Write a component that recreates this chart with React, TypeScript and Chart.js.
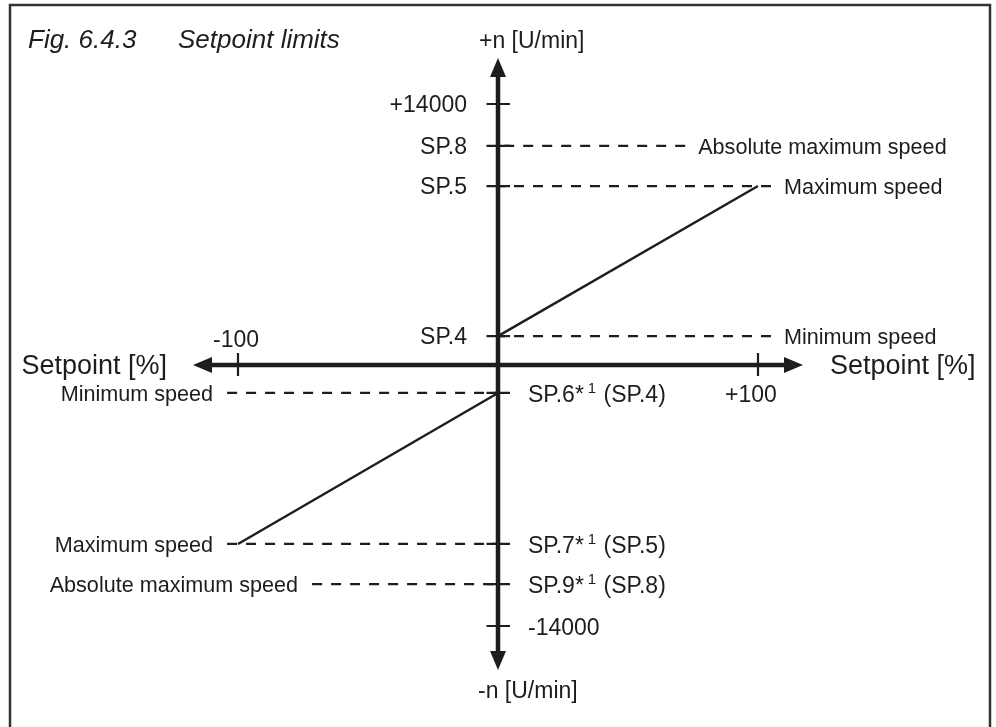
import { useEffect, useRef } from "react";
import { Chart, registerables } from "chart.js";

Chart.register(...registerables);

// ---- data ----
const titleParts = ["Fig. 6.4.3", "Setpoint limits"];
const xAxisTitle = "Setpoint [%]";
const yAxisTitlePos = "+n [U/min]";
const yAxisTitleNeg = "-n [U/min]";

const posTickLabels = ["+14000", "SP.8", "SP.5", "SP.4"];
const posTickValues = [14000, 11750, 9600, 1550];
const negTickLabels = ["SP.6*^1 (SP.4)", "SP.7*^1 (SP.5)", "SP.9*^1 (SP.8)", "-14000"];
const negTickValues = [-1500, -9600, -11750, -14000];

const xTickLabels = ["-100", "+100"];
const xTickValues = [-100, 100];

const posSetpoint = [0, 100];
const posSpeed = [1550, 9600];
const negSetpoint = [0, -100];
const negSpeed = [-1500, -9600];

const guideLabels = [
  "Absolute maximum speed",
  "Maximum speed",
  "Minimum speed",
  "Minimum speed",
  "Maximum speed",
  "Absolute maximum speed",
];
const guideLevels = [11750, 9600, 1550, -1500, -9600, -11750];
const guideEnds = [72, 105, 105, -104.2, -104.2, -71.5];

const axisXEnds = [-117.3, 117.3];
const axisYEnds = [-16360, 16470];

// scale bounds (view window)
const X_MIN = -191.54;
const X_MAX = 191.54;
const Y_MIN = -19418;
const Y_MAX = 19579;

const INK = "#1f1c1d";
const FONT = "'Liberation Sans', Arial, Helvetica, sans-serif";

function drawSupText(ctx: CanvasRenderingContext2D, text: string, x: number, y: number, size: number) {
  // "^" marks a superscript character: "A^1 B" -> A, sup 1, " B"
  const parts = text.split("^");
  ctx.font = `${size}px ${FONT}`;
  if (parts.length === 1) {
    ctx.fillText(text, x, y);
    return;
  }
  let cx = x;
  ctx.fillText(parts[0], cx, y);
  cx += ctx.measureText(parts[0]).width + 4;
  const rest = parts[1];
  const supChar = rest.charAt(0);
  const after = rest.slice(1);
  ctx.font = `${Math.round(size * 0.66)}px ${FONT}`;
  ctx.fillText(supChar, cx, y - 9);
  cx += ctx.measureText(supChar).width + 1;
  ctx.font = `${size}px ${FONT}`;
  ctx.fillText(after, cx, y);
}

const diagramPlugin = {
  id: "diagram",
  beforeDraw(chart: any) {
    const { ctx, width, height } = chart;
    ctx.save();
    ctx.fillStyle = "#ffffff";
    ctx.fillRect(0, 0, width, height);
    ctx.strokeStyle = "#333333";
    ctx.lineWidth = 2.5;
    ctx.beginPath();
    ctx.moveTo(10, height + 5);
    ctx.lineTo(10, 5);
    ctx.lineTo(990, 5);
    ctx.lineTo(990, height + 5);
    ctx.stroke();
    ctx.restore();
  },
  afterDatasetsDraw(chart: any) {
    const { ctx } = chart;
    const xs = chart.scales.x;
    const ys = chart.scales.y;
    const ox = xs.getPixelForValue(0);
    const oy = ys.getPixelForValue(0);
    const head = 19;
    const half = 8;

    ctx.save();
    ctx.strokeStyle = INK;
    ctx.fillStyle = INK;

    // axes
    const xl = xs.getPixelForValue(axisXEnds[0]);
    const xr = xs.getPixelForValue(axisXEnds[1]);
    const yt = ys.getPixelForValue(axisYEnds[1]);
    const yb = ys.getPixelForValue(axisYEnds[0]);
    ctx.lineWidth = 4.5;
    ctx.beginPath();
    ctx.moveTo(xl + head - 1, oy);
    ctx.lineTo(xr - head + 1, oy);
    ctx.moveTo(ox, yt + head - 1);
    ctx.lineTo(ox, yb - head + 1);
    ctx.stroke();

    const tri = (p: number[][]) => {
      ctx.beginPath();
      ctx.moveTo(p[0][0], p[0][1]);
      ctx.lineTo(p[1][0], p[1][1]);
      ctx.lineTo(p[2][0], p[2][1]);
      ctx.closePath();
      ctx.fill();
    };
    tri([[xl, oy], [xl + head, oy - half], [xl + head, oy + half]]);
    tri([[xr, oy], [xr - head, oy - half], [xr - head, oy + half]]);
    tri([[ox, yt], [ox - half, yt + head], [ox + half, yt + head]]);
    tri([[ox, yb], [ox - half, yb - head], [ox + half, yb - head]]);

    // ticks
    ctx.lineWidth = 2.2;
    ctx.beginPath();
    [...posTickValues, ...negTickValues].forEach((v) => {
      const py = ys.getPixelForValue(v);
      ctx.moveTo(ox - 11.5, py);
      ctx.lineTo(ox + 12, py);
    });
    xTickValues.forEach((v) => {
      const px = xs.getPixelForValue(v);
      ctx.moveTo(px, oy - 12);
      ctx.lineTo(px, oy + 11);
    });
    ctx.stroke();

    // tick labels
    ctx.textBaseline = "alphabetic";
    ctx.font = `23px ${FONT}`;
    ctx.textAlign = "right";
    posTickLabels.forEach((t, i) => {
      ctx.fillText(t, ox - 31, ys.getPixelForValue(posTickValues[i]) + 8);
    });
    ctx.textAlign = "left";
    negTickLabels.forEach((t, i) => {
      drawSupText(ctx, t, ox + 30, ys.getPixelForValue(negTickValues[i]) + 9, 23);
    });
    ctx.textAlign = "center";
    ctx.font = `23px ${FONT}`;
    xTickLabels.forEach((t, i) => {
      const v = xTickValues[i];
      const px = xs.getPixelForValue(v);
      if (v < 0) ctx.fillText(t, px - 2, oy - 18);
      else ctx.fillText(t, px - 7, oy + 37);
    });

    // guide labels
    ctx.font = `21.6px ${FONT}`;
    guideLabels.forEach((t, i) => {
      const end = xs.getPixelForValue(guideEnds[i]);
      const py = ys.getPixelForValue(guideLevels[i]) + 8;
      if (guideEnds[i] > 0) {
        ctx.textAlign = "left";
        ctx.fillText(t, end + 13, py);
      } else {
        ctx.textAlign = "right";
        ctx.fillText(t, end - 14, py);
      }
    });

    // axis titles
    ctx.font = `27px ${FONT}`;
    ctx.textAlign = "right";
    ctx.fillText(xAxisTitle, xl - 26, oy + 9);
    ctx.textAlign = "left";
    ctx.fillText(xAxisTitle, xr + 27, oy + 9);
    ctx.font = `23px ${FONT}`;
    ctx.fillText(yAxisTitlePos, ox - 19, yt - 10);
    ctx.fillText(yAxisTitleNeg, ox - 20, yb + 28);

    // figure title
    ctx.font = `italic 26px ${FONT}`;
    ctx.fillText(titleParts[0], 28, 48);
    ctx.fillText(titleParts[1], 178, 48);

    ctx.restore();
  },
};

export default function App() {
  const ref = useRef<HTMLCanvasElement | null>(null);

  useEffect(() => {
    if (!ref.current) return;
    // dashed guides are drawn from their outer end towards the axis,
    // so the dash pattern starts with a full dash at the labelled end
    const guideSets = guideLevels.map((lv, i) => ({
      label: guideLabels[i],
      data: [
        { x: guideEnds[i], y: lv },
        { x: 0, y: lv },
      ],
      borderColor: INK,
      borderWidth: 2.2,
      borderDash: [10, 9],
      borderDashOffset: 0,
      pointRadius: 0,
      showLine: true,
      fill: false,
    }));
    const chart = new Chart(ref.current, {
      type: "scatter",
      data: {
        datasets: [
          ...guideSets,
          {
            label: "positive",
            data: posSetpoint.map((x, i) => ({ x, y: posSpeed[i] })),
            borderColor: INK,
            borderWidth: 2.4,
            pointRadius: 0,
            showLine: true,
            fill: false,
          },
          {
            label: "negative",
            data: negSetpoint.map((x, i) => ({ x, y: negSpeed[i] })),
            borderColor: INK,
            borderWidth: 2.4,
            pointRadius: 0,
            showLine: true,
            fill: false,
          },
        ],
      },
      options: {
        animation: false,
        responsive: false,
        devicePixelRatio: 1,
        layout: { padding: 0 },
        plugins: {
          legend: { display: false },
          tooltip: { enabled: false },
          title: { display: false },
        },
        scales: {
          x: { type: "linear", min: X_MIN, max: X_MAX, display: false },
          y: { type: "linear", min: Y_MIN, max: Y_MAX, display: false },
        },
      },
      plugins: [diagramPlugin],
    });
    return () => chart.destroy();
  }, []);

  return (
    <div style={{ position: "absolute", left: 0, top: 0, width: 996, height: 727, background: "#fff" }}>
      <canvas ref={ref} width={996} height={727} style={{ display: "block" }} />
    </div>
  );
}
